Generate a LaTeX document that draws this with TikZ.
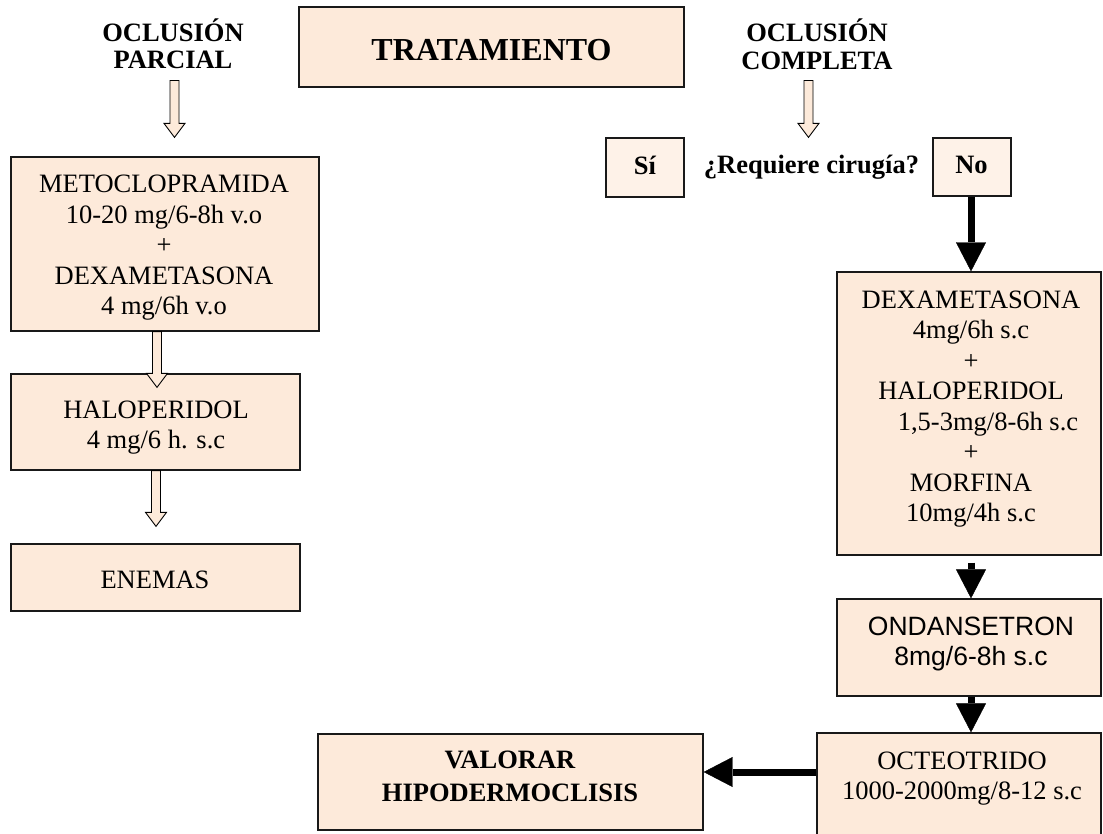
\documentclass[tikz,border=0pt]{standalone}
\usepackage{fontspec}
\setmainfont{Liberation Serif}
\newfontfamily\arialfont{Liberation Sans}
\usetikzlibrary{arrows.meta,calc}
\definecolor{peach}{HTML}{FDEADA}
\definecolor{palepeach}{HTML}{FEF2E8}

% hollow block arrow pointing down, from #1 to the tip #2
\newcommand\hollowdown[2]{%
  \draw[hollow] ($(#1)+(-4.5,0)$) -- ($(#2)+(-4.5,-14)$) -- ($(#2)+(-10.5,-14)$)
    -- (#2) -- ($(#2)+(10.5,-14)$) -- ($(#2)+(4.5,-14)$) -- ($(#1)+(4.5,0)$) -- cycle;}

\begin{document}
\begin{tikzpicture}[x=1pt,y=-1pt,
  box/.style={draw=black!90, line width=1.3pt, fill=peach, inner sep=0pt},
  palebox/.style={box, fill=palepeach},
  % multi-line texts are placed by the baseline of their last line
  txt/.style={inner sep=0pt, align=center, anchor=base,
    font=\fontsize{26.5}{30.5}\selectfont},
  sanstxt/.style={txt, font=\fontsize{26.5}{30}\selectfont\arialfont},
  hdr/.style={inner sep=0pt, align=center, anchor=base,
    font=\fontsize{26.5}{27.5}\selectfont\bfseries},
  hollow/.style={draw=black, line width=0.9pt, fill=peach, line join=miter},
  blk/.style={line width=7pt, -{Triangle[width=30pt,length=29pt,line width=0.4pt]}}
]
\useasboundingbox (0,0) rectangle (1103,834);
\clip (0,0) rectangle (1103,834);
\fill[white] (0,0) rectangle (1103,834);

% title and the two branches
\node[box, minimum width=385pt, minimum height=80pt] (trat) at (491.5,47) {};
\node[hdr, font=\fontsize{32}{36}\selectfont\bfseries] (tratT) at (491.5,61) {TRATAMIENTO};
\node[hdr] (hdrL) at (173,69) {OCLUSIÓN\\PARCIAL};
\node[hdr] (hdrR) at (817,69.5) {OCLUSIÓN\\COMPLETA};

% partial occlusion column
\node[box, minimum width=308pt, minimum height=174pt] (meto) at (165,244) {};
\node[txt] (metoT) at (164,315)
  {METOCLOPRAMIDA\\10-20 mg/6-8h v.o\\+\\DEXAMETASONA\\4 mg/6h v.o};
\node[box, minimum width=289pt, minimum height=96pt] (halo) at (155.5,422) {};
\node[txt] (haloT) at (156,448.5) {HALOPERIDOL\\4 mg/6 h. s.c};
\node[box, minimum width=289pt, minimum height=67pt] (enem) at (155.5,577.5) {};
\node[txt] (enemT) at (155,588) {ENEMAS};

% surgery question
\node[palebox, minimum width=78pt, minimum height=59pt] (si) at (645,167.5) {};
\node[hdr] (siT) at (645,175) {Sí};
\node[hdr] (reqT) at (811.5,174) {¿Requiere cirugía?};
\node[palebox, minimum width=78pt, minimum height=58pt] (no) at (972,167) {};
\node[hdr] (noT) at (971.5,174) {No};

% complete occlusion column
\node[box, minimum width=264pt, minimum height=283pt] (dexa) at (969,413.5) {};
\node[txt] (dexaT) at (971,521.5)
  {DEXAMETASONA\\4mg/6h s.c\\+\\HALOPERIDOL\\\hspace*{34pt}1,5-3mg/8-6h s.c\\+\\MORFINA\\10mg/4h s.c};
\node[box, minimum width=264pt, minimum height=97pt] (onda) at (969,647.5) {};
\node[sanstxt] (ondaT) at (971,665) {ONDANSETRON\\8mg/6-8h s.c};
\node[box, minimum width=284pt, minimum height=117pt] (octe) at (959,791.5) {};
\node[txt] (octeT) at (962,799.5) {OCTEOTRIDO\\1000-2000mg/8-12 s.c};
\node[box, minimum width=385pt, minimum height=96pt] (valo) at (510.5,782) {};
\node[hdr, font=\fontsize{26.5}{33}\selectfont\bfseries] (valoT) at (510,801)
  {VALORAR\\HIPODERMOCLISIS};

% hollow arrows
\coordinate (aL1) at ($(hdrL.south)+(1.5,11)$);
\coordinate (aL2) at (174.5,0 |- meto.north);
\hollowdown{aL1}{$(aL2)+(0,-19)$}
\coordinate (aR1) at ($(hdrR.south)+(-8.5,10.5)$);
\coordinate (aR2) at (808.5,0 |- si.north);
\hollowdown{aR1}{aR2}
\coordinate (aM1) at (157,0 |- meto.south);
\coordinate (aM2) at (157,0 |- halo.north);
\hollowdown{aM1}{$(aM2)+(0,14)$}
\coordinate (aH1) at (156,0 |- halo.south);
\coordinate (aH2) at (156,0 |- enem.north);
\hollowdown{aH1}{$(aH2)+(0,-17)$}

% solid arrows
\draw[blk] (971,0 |- no.south) -- (971,0 |- dexa.north);
\draw[blk] ($(971,0 |- dexa.south)+(0,7)$) -- (971,0 |- onda.north);
\draw[blk] (971,0 |- onda.south) -- (971,0 |- octe.north);
\draw[blk] (octe.west |- 0,772) -- (valo.east |- 0,772);
\end{tikzpicture}
\end{document}
